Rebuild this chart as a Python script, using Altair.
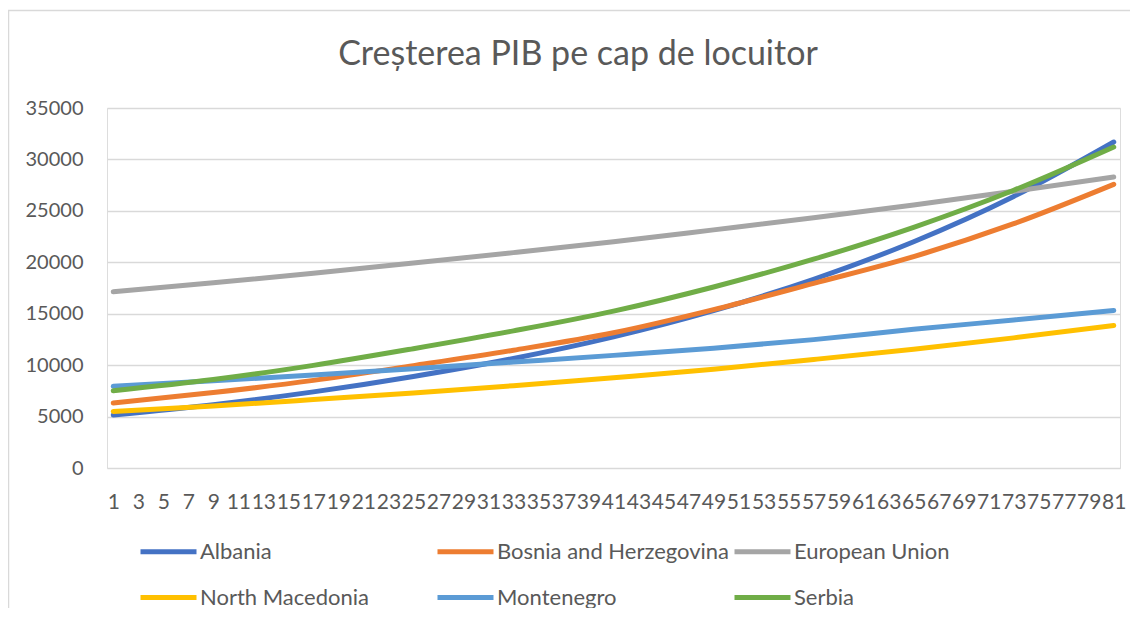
import altair as alt
import pandas as pd

# ---- data ----
x_points = [1, 9, 17, 25, 33, 41, 49, 57, 65, 73, 81]
albania = [5150, 6150, 7400, 8900, 10650, 12750, 15300, 18350, 22000, 26400, 31690]
bosnia = [6320, 7330, 8520, 9950, 11450, 13150, 15400, 17950, 20550, 23750, 27580]
european_union = [17130, 18000, 18940, 19920, 20940, 22000, 23150, 24320, 25570, 26900, 28290]
north_macedonia = [5500, 6030, 6650, 7300, 8000, 8780, 9600, 10550, 11550, 12650, 13850]
montenegro = [7940, 8480, 9050, 9650, 10300, 10950, 11650, 12480, 13480, 14390, 15310]
serbia = [7520, 8600, 9980, 11600, 13330, 15250, 17600, 20300, 23400, 27000, 31210]

series_names = ["Albania", "Bosnia and Herzegovina", "European Union",
                "North Macedonia", "Montenegro", "Serbia"]
series_values = [albania, bosnia, european_union, north_macedonia, montenegro, serbia]
series_colors = ["#4472C4", "#ED7D31", "#A5A5A5", "#FFC000", "#5B9BD5", "#70AD47"]

x_tick_labels = list(range(1, 82, 2))
y_tick_labels = [0, 5000, 10000, 15000, 20000, 25000, 30000, 35000]

title_text = "Creșterea PIB pe cap de locuitor"

rows = []
for name, vals in zip(series_names, series_values):
    for xv, yv in zip(x_points, vals):
        rows.append({"idx": xv, "value": yv, "series": name})
df = pd.DataFrame(rows)

TXT = "#595959"
GRID = "#D9D9D9"
FONT = "Lato"

lines = alt.Chart(df).mark_line(
    strokeWidth=5, strokeCap="round", interpolate="monotone"
).encode(
    x=alt.X("idx:Q",
            scale=alt.Scale(domain=[0.5, 81.5], nice=False, zero=False),
            axis=alt.Axis(values=x_tick_labels, title=None, grid=False,
                          ticks=False, domain=False, labelOverlap=False,
                          labelFlush=False, labelPadding=23, labelFont=FONT,
                          labelFontSize=21, labelColor=TXT, format="d")),
    y=alt.Y("value:Q",
            scale=alt.Scale(domain=[0, 35000], nice=False),
            axis=alt.Axis(values=y_tick_labels, title=None, grid=True,
                          gridColor=GRID, gridWidth=1.5, ticks=False,
                          domain=False, labelPadding=24, labelFont=FONT,
                          labelFontSize=20, labelColor=TXT, format="d")),
    color=alt.Color("series:N",
                    scale=alt.Scale(domain=series_names, range=series_colors),
                    legend=alt.Legend(orient="none", legendX=31, legendY=413,
                                      direction="horizontal", columns=3,
                                      title=None, symbolType="stroke",
                                      symbolSize=3136, symbolStrokeWidth=5,
                                      labelFont=FONT, labelFontSize=22,
                                      labelColor=TXT, labelOffset=1,
                                      gridAlign="all", columnPadding=-6,
                                      rowPadding=4, padding=0,
                                      labelLimit=400)),
    order=alt.Order("idx:Q"),
)

frame_data = alt.Data(values=[{"k": 0}])
top_border = alt.Chart(frame_data).mark_rule(color=GRID, strokeWidth=1.5).encode(
    x=alt.value(-99), x2=alt.value(1023), y=alt.value(-97.5))
left_border = alt.Chart(frame_data).mark_rule(color=GRID, strokeWidth=1.5).encode(
    x=alt.value(-98.5), y=alt.value(-97.5), y2=alt.value(500))

title_mark = alt.Chart(alt.Data(values=[{"t": title_text}])).mark_text(
    font=FONT, fontSize=34, color=TXT, align="center", baseline="alphabetic"
).encode(text="t:N", x=alt.value(471), y=alt.value(-43))

chart = alt.layer(top_border, left_border, title_mark, lines).properties(
    width=1013, height=360,
    autosize=alt.AutoSizeParams(type="none"),
    padding={"left": 99, "top": 100, "right": 10, "bottom": 140},
).configure_view(stroke=None).configure(background="white")

chart.save("out.html", embed_options={"renderer": "svg", "actions": False})
